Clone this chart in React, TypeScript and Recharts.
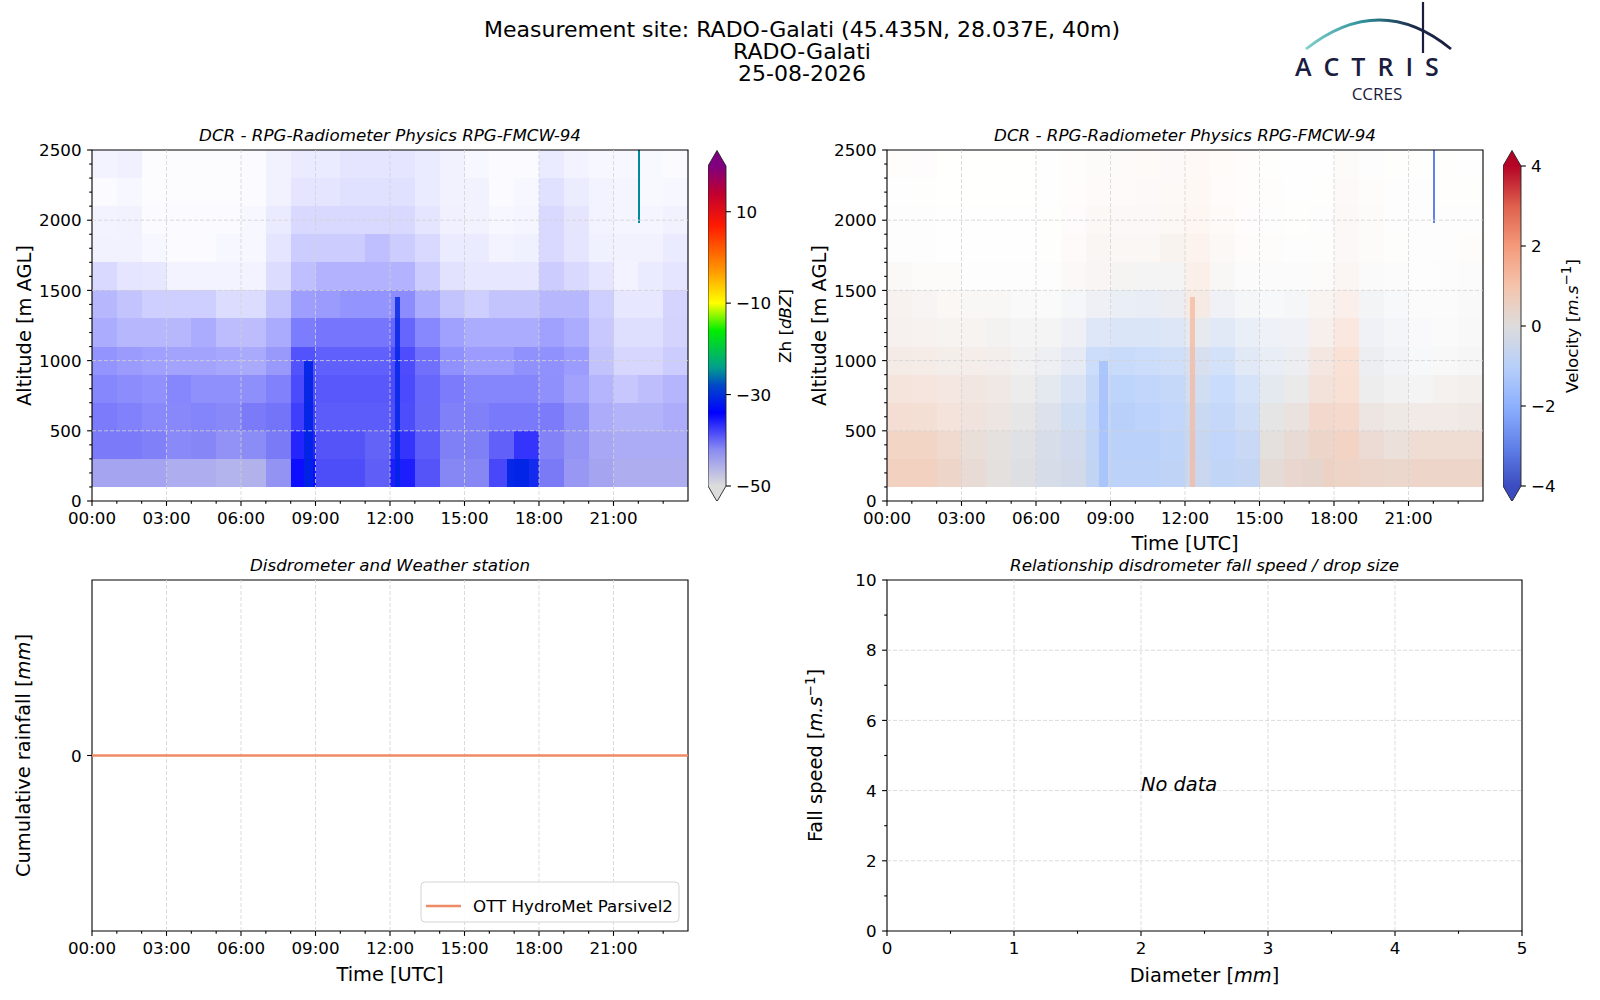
import React from "react";
import { ComposedChart, XAxis, YAxis, ReferenceArea, ReferenceLine, ReferenceDot, Line, Scatter } from "recharts";

const FONT = '"DejaVu Sans", sans-serif';

// ---- axes ----
const HOURS = [0, 1, 2, 3, 4, 5, 6, 7, 8, 9, 10, 11, 12, 13, 14, 15, 16, 17, 18, 19, 20, 21, 22, 23];
const HOUR_MAJOR = [0, 3, 6, 9, 12, 15, 18, 21];
const ALT_TICKS = [0, 100, 200, 300, 400, 500, 600, 700, 800, 900, 1000, 1100, 1200, 1300, 1400, 1500, 1600, 1700, 1800, 1900, 2000, 2100, 2200, 2300, 2400, 2500];
const ALT_MAJOR = [0, 500, 1000, 1500, 2000, 2500];
const ALT_BANDS = [100, 300, 500, 700, 900, 1100, 1300, 1500, 1700, 1900, 2100, 2300]; // lower edge, 200 m bands
const ZH_TICKS = [-50, -30, -10, 10];
const VEL_TICKS = [-4, -2, 0, 2, 4];
const DIAM_TICKS = [0, 0.5, 1, 1.5, 2, 2.5, 3, 3.5, 4, 4.5, 5];
const DIAM_MAJOR = [0, 1, 2, 3, 4, 5];
const SPEED_TICKS = [0, 1, 2, 3, 4, 5, 6, 7, 8, 9, 10];
const SPEED_MAJOR = [0, 2, 4, 6, 8, 10];

// ---- radar echo coverage (fraction of gates with signal), per hour, per band ----
const COVER_100 = [0.85, 0.85, 0.85, 0.85, 0.85, 0.88, 0.9, 0.92, 0.95, 0.95, 0.95, 0.95, 0.95, 0.92, 0.9, 0.9, 0.9, 0.92, 0.88, 0.88, 0.85, 0.85, 0.85, 0.85];
const COVER_300 = [0.78, 0.78, 0.75, 0.78, 0.8, 0.82, 0.86, 0.88, 0.92, 0.92, 0.92, 0.92, 0.92, 0.88, 0.85, 0.85, 0.85, 0.85, 0.82, 0.8, 0.75, 0.72, 0.72, 0.72];
const COVER_500 = [0.65, 0.62, 0.58, 0.64, 0.66, 0.7, 0.78, 0.82, 0.88, 0.88, 0.88, 0.88, 0.88, 0.82, 0.75, 0.75, 0.72, 0.72, 0.7, 0.65, 0.55, 0.5, 0.5, 0.55];
const COVER_700 = [0.55, 0.52, 0.5, 0.55, 0.55, 0.55, 0.6, 0.68, 0.82, 0.82, 0.82, 0.82, 0.82, 0.75, 0.65, 0.6, 0.6, 0.6, 0.55, 0.5, 0.4, 0.3, 0.35, 0.4];
const COVER_900 = [0.45, 0.42, 0.4, 0.42, 0.42, 0.4, 0.42, 0.5, 0.72, 0.72, 0.72, 0.72, 0.75, 0.65, 0.5, 0.45, 0.45, 0.5, 0.5, 0.45, 0.3, 0.2, 0.2, 0.25];
const COVER_1100 = [0.35, 0.3, 0.3, 0.3, 0.35, 0.3, 0.3, 0.38, 0.55, 0.58, 0.58, 0.58, 0.6, 0.5, 0.4, 0.35, 0.35, 0.35, 0.4, 0.35, 0.25, 0.15, 0.15, 0.2];
const COVER_1300 = [0.3, 0.25, 0.2, 0.2, 0.2, 0.15, 0.15, 0.25, 0.38, 0.42, 0.45, 0.45, 0.45, 0.35, 0.25, 0.2, 0.25, 0.25, 0.3, 0.3, 0.2, 0.1, 0.1, 0.18];
const COVER_1500 = [0.15, 0.1, 0.1, 0.05, 0.05, 0.05, 0.05, 0.15, 0.25, 0.3, 0.3, 0.3, 0.3, 0.2, 0.12, 0.1, 0.1, 0.1, 0.2, 0.15, 0.1, 0.05, 0.08, 0.1];
const COVER_1700 = [0.05, 0.05, 0.03, 0.02, 0.02, 0.03, 0.03, 0.1, 0.2, 0.2, 0.2, 0.25, 0.2, 0.15, 0.08, 0.08, 0.05, 0.06, 0.15, 0.1, 0.06, 0.05, 0.05, 0.08];
const COVER_1900 = [0.05, 0.05, 0.02, 0.02, 0.02, 0.02, 0.03, 0.08, 0.15, 0.15, 0.15, 0.15, 0.15, 0.1, 0.06, 0.05, 0.03, 0.04, 0.15, 0.1, 0.05, 0.04, 0.04, 0.05];
const COVER_2100 = [0.02, 0.03, 0.01, 0.01, 0.01, 0.01, 0.02, 0.05, 0.1, 0.1, 0.12, 0.12, 0.12, 0.08, 0.05, 0.05, 0.02, 0.03, 0.12, 0.08, 0.05, 0.04, 0.03, 0.03];
const COVER_2300 = [0.05, 0.06, 0.01, 0.01, 0.01, 0.01, 0.02, 0.05, 0.08, 0.08, 0.1, 0.1, 0.1, 0.08, 0.05, 0.03, 0.02, 0.02, 0.08, 0.05, 0.03, 0.03, 0.03, 0.02];

// ---- mean reflectivity Zh (dBZ) ----
const ZH_100 = [-43, -43, -43, -44, -44, -45, -45, -42, -34, -38, -38, -39, -35, -38, -41, -41, -37, -32, -40, -42, -43, -44, -44, -44];
const ZH_300 = [-39, -39, -39, -40, -40, -41, -41, -40, -35, -38, -38, -39, -36, -38, -40, -40, -38, -35, -40, -41, -42, -42, -42, -42];
const ZH_500 = [-37, -37, -37, -38, -38, -39, -39, -39, -36, -38, -38, -38, -37, -38, -39, -39, -38, -38, -38, -39, -40, -40, -40, -40];
const ZH_700 = [-36, -36, -36, -36, -37, -37, -38, -38, -36, -37, -37, -37, -36, -37, -37, -37, -37, -37, -37, -38, -38, -38, -38, -38];
const ZH_900 = [-35, -35, -35, -36, -36, -36, -37, -37, -35, -36, -36, -36, -35, -36, -36, -36, -36, -36, -36, -36, -37, -37, -37, -37];
const ZH_1100 = [-35, -35, -35, -35, -35, -36, -36, -36, -35, -35, -35, -35, -34, -35, -35, -35, -35, -35, -35, -35, -36, -36, -36, -36];
const ZH_1300 = [-35, -35, -35, -35, -35, -35, -35, -35, -34, -35, -35, -35, -34, -35, -35, -35, -35, -35, -35, -35, -35, -35, -35, -35];
const ZH_1500 = [-34, -34, -35, -35, -35, -35, -35, -35, -34, -34, -34, -34, -34, -34, -35, -35, -35, -35, -34, -34, -34, -35, -34, -34];
const ZH_1700 = [-34, -34, -34, -34, -34, -34, -34, -34, -34, -34, -34, -34, -34, -34, -34, -34, -33, -33, -34, -34, -33, -34, -34, -34];
const ZH_1900 = [-33, -34, -34, -34, -34, -34, -34, -34, -34, -34, -34, -34, -34, -34, -34, -34, -33, -33, -34, -33, -33, -34, -34, -34];
const ZH_2100 = [-33, -33, -34, -34, -34, -34, -34, -34, -34, -34, -34, -34, -34, -34, -34, -34, -33, -33, -34, -33, -33, -33, -30, -34];
const ZH_2300 = [-33, -33, -34, -34, -34, -34, -34, -34, -34, -34, -34, -34, -34, -34, -34, -34, -33, -32, -34, -33, -33, -33, -30, -34];

// ---- mean Doppler velocity (m/s) ----
const VEL_100 = [0.8, 0.8, 0.6, 0.3, 0.1, -0.1, -0.3, -0.4, -0.8, -1.0, -1.0, -0.9, -0.6, -0.9, -0.8, 0.2, 0.4, 0.6, 0.6, 0.5, 0.5, 0.6, 0.6, 0.6];
const VEL_300 = [0.8, 0.8, 0.6, 0.3, 0.1, -0.1, -0.3, -0.5, -0.9, -1.1, -1.1, -1.0, -0.7, -1.0, -0.8, 0.1, 0.3, 0.6, 0.8, 0.4, 0.3, 0.5, 0.5, 0.5];
const VEL_500 = [0.7, 0.7, 0.6, 0.4, 0.2, 0, -0.3, -0.6, -1.0, -1.2, -1.1, -1.0, -0.7, -1.0, -0.8, 0, 0.2, 0.7, 0.8, 0.2, 0.2, 0.3, 0.3, 0.3];
const VEL_700 = [0.6, 0.6, 0.5, 0.4, 0.3, 0, -0.3, -0.6, -1.0, -1.2, -1.1, -1.0, -0.6, -1.0, -0.8, -0.3, 0, 0.6, 0.9, 0, 0, 0, 0.2, 0.2];
const VEL_900 = [0.4, 0.4, 0.3, 0.3, 0.2, 0, -0.2, -0.5, -1.0, -1.1, -1.0, -0.9, -0.5, -0.9, -0.7, -0.4, -0.2, 0.5, 1.0, -0.2, -0.3, -0.2, 0, 0];
const VEL_1100 = [0.3, 0.3, 0.2, 0.2, 0.1, 0, -0.1, -0.3, -0.7, -0.8, -0.8, -0.7, -0.2, -0.7, -0.5, -0.4, -0.3, 0.4, 0.9, -0.3, -0.3, -0.2, 0, 0];
const VEL_1300 = [0.3, 0.3, 0.3, 0.2, 0.2, 0.1, 0, -0.1, -0.3, -0.4, -0.4, -0.3, 0.5, -0.3, -0.2, -0.2, -0.2, 0.4, 0.7, -0.2, -0.2, 0, 0, 0];
const VEL_1500 = [0.3, 0.2, 0.2, 0.2, 0.2, 0.2, 0.2, 0.3, 0.2, 0.1, 0, 0, 0.8, 0.2, 0, 0, 0, 0.3, 0.5, 0, 0, 0, 0, 0];
const VEL_1700 = [0.2, 0.2, 0.2, 0.2, 0.2, 0.2, 0.3, 0.4, 0.4, 0.3, 0.3, 0.5, 1.0, 0.5, 0.3, 0.2, 0.2, 0.3, 0.4, 0.2, 0.2, 0.2, 0.2, 0.2];
const VEL_1900 = [0.2, 0.3, 0.2, 0.2, 0.2, 0.2, 0.3, 0.4, 0.5, 0.4, 0.4, 0.6, 1.1, 0.6, 0.4, 0.3, 0.3, 0.3, 0.4, 0.3, 0.2, 0.2, 0.2, 0.2];
const VEL_2100 = [0.3, 0.3, 0.2, 0.2, 0.2, 0.2, 0.3, 0.4, 0.5, 0.5, 0.5, 0.7, 1.0, 0.7, 0.5, 0.4, 0.3, 0.4, 0.5, 0.3, 0.3, 0.3, 0.3, 0.3];
const VEL_2300 = [0.4, 0.4, 0.2, 0.2, 0.2, 0.2, 0.3, 0.4, 0.5, 0.5, 0.6, 0.8, 0.9, 0.8, 0.6, 0.5, 0.4, 0.4, 0.5, 0.3, 0.3, 0.3, 0.3, 0.3];

// narrow features seen in the radar images
const STREAKS = [
  { t0: 8.55, t1: 8.9, a0: 100, a1: 1000, cover: 0.9, zh: -31, vel: -1.4 },
  { t0: 12.2, t1: 12.4, a0: 100, a1: 1450, cover: 0.8, zh: -31, vel: 1.2 },
  { t0: 16.7, t1: 17.6, a0: 100, a1: 300, cover: 0.9, zh: -31, vel: 0.3 },
  { t0: 22.0, t1: 22.08, a0: 1980, a1: 2500, cover: 1, zh: -25, vel: -3 },
];

// ---- disdrometer ----
const RAIN_TIME = [0, 1, 2, 3, 4, 5, 6, 7, 8, 9, 10, 11, 12, 13, 14, 15, 16, 17, 18, 19, 20, 21, 22, 23, 24];
const RAIN_MM = [0, 0, 0, 0, 0, 0, 0, 0, 0, 0, 0, 0, 0, 0, 0, 0, 0, 0, 0, 0, 0, 0, 0, 0, 0];
const DROP_DIAMETER: number[] = [];
const DROP_SPEED: number[] = [];

const COVER = [COVER_100, COVER_300, COVER_500, COVER_700, COVER_900, COVER_1100, COVER_1300, COVER_1500, COVER_1700, COVER_1900, COVER_2100, COVER_2300];
const ZH = [ZH_100, ZH_300, ZH_500, ZH_700, ZH_900, ZH_1100, ZH_1300, ZH_1500, ZH_1700, ZH_1900, ZH_2100, ZH_2300];
const VEL = [VEL_100, VEL_300, VEL_500, VEL_700, VEL_900, VEL_1100, VEL_1300, VEL_1500, VEL_1700, VEL_1900, VEL_2100, VEL_2300];

const CELLS = ALT_BANDS.flatMap((a, r) =>
  HOURS.map((h, c) => ({ t0: h, t1: h + 1, a0: a, a1: a + 200, cover: COVER[r][c], zh: ZH[r][c], vel: VEL[r][c] }))
).concat(STREAKS);

const rainData = RAIN_TIME.map((t, i) => ({ t, rain: RAIN_MM[i] }));
const dropData = DROP_DIAMETER.map((d, i) => ({ d, v: DROP_SPEED[i] }));

// ---- colour maps ----
type Stop = [number, string];
const ZH_STOPS: Stop[] = [
  [-50, "#dcdcdc"], [-42, "#8a8af2"], [-34, "#0000ff"], [-28, "#0048c8"], [-24, "#00a08a"],
  [-16, "#00ee00"], [-10, "#ffff00"], [-3, "#ff9900"], [7, "#ff1a00"], [14, "#c00030"], [20, "#7f007f"],
];
const VEL_STOPS: Stop[] = [
  [-4, "#3b4cc0"], [-3, "#6282ea"], [-2, "#8db0fe"], [-1, "#b8d0f9"], [0, "#dddcdc"],
  [1, "#f5c4ac"], [2, "#f49a7b"], [3, "#de604d"], [4, "#b40426"],
];

function hexRgb(h: string) {
  return [1, 3, 5].map((i) => parseInt(h.slice(i, i + 2), 16));
}
function colorAt(stops: Stop[], v: number) {
  if (v <= stops[0][0]) return stops[0][1];
  for (let i = 1; i < stops.length; i++) {
    if (v <= stops[i][0]) {
      const [v0, c0] = stops[i - 1];
      const [v1, c1] = stops[i];
      const f = (v - v0) / (v1 - v0);
      const a = hexRgb(c0), b = hexRgb(c1);
      return `rgb(${a.map((x, k) => Math.round(x + (b[k] - x) * f)).join(",")})`;
    }
  }
  return stops[stops.length - 1][1];
}

const fmtHour = (h: number) => `${String(h).padStart(2, "0")}:00`;
const fmtNum = (v: number) => (v < 0 ? `\u2212${Math.abs(v)}` : `${v}`);

// ---- ticks in matplotlib style ----
function BottomTick(p: any) {
  const { x, y, payload, majors, format } = p;
  const major = majors.includes(payload.value);
  return (
    <g>
      <line x1={x} x2={x} y1={y} y2={y + (major ? 4.9 : 2.8)} stroke="#000" strokeWidth={1.1} />
      {major && (
        <text x={x} y={y + 23} textAnchor="middle" fontSize={16.7} fontFamily={FONT} fill="#000">
          {format(payload.value)}
        </text>
      )}
    </g>
  );
}
function LeftTick(p: any) {
  const { x, y, payload, majors, format } = p;
  const major = majors.includes(payload.value);
  return (
    <g>
      <line x1={x} x2={x - (major ? 4.9 : 2.8)} y1={y} y2={y} stroke="#000" strokeWidth={1.1} />
      {major && (
        <text x={x - 10.5} y={y + 6.2} textAnchor="end" fontSize={16.7} fontFamily={FONT} fill="#000">
          {format(payload.value)}
        </text>
      )}
    </g>
  );
}
function RightTick(p: any) {
  const { x, y, payload } = p;
  return (
    <g>
      <line x1={x} x2={x + 4.9} y1={y} y2={y} stroke="#000" strokeWidth={1.1} />
      <text x={x + 10} y={y + 6.2} textAnchor="start" fontSize={16.7} fontFamily={FONT} fill="#000">
        {fmtNum(payload.value)}
      </text>
    </g>
  );
}

const GRID = { stroke: "#d2d2d2", strokeDasharray: "4 2", strokeWidth: 0.8 };

function RadarPanel({ left, field, stops }: { left: number; field: "zh" | "vel"; stops: Stop[] }) {
  return (
    <div style={{ position: "absolute", left, top: 100 }}>
      <ComposedChart width={700} height={450} margin={{ top: 50, right: 12, bottom: 9, left: 0 }} data={[]}>
        <XAxis type="number" dataKey="t" domain={[0, 24]} ticks={HOURS} interval={0} height={40}
          axisLine={false} tickLine={false} tickSize={0} tickMargin={0} allowDataOverflow
          tick={(p: any) => <BottomTick {...p} majors={HOUR_MAJOR} format={fmtHour} />} />
        <YAxis type="number" dataKey="a" domain={[0, 2500]} ticks={ALT_TICKS} interval={0} width={92}
          axisLine={false} tickLine={false} tickSize={0} tickMargin={0} allowDataOverflow
          tick={(p: any) => <LeftTick {...p} majors={ALT_MAJOR} format={(v: number) => `${v}`} />} />
        {CELLS.map((c, i) => {
          const fill = colorAt(stops, c[field]);
          return (
            <ReferenceArea key={i} x1={c.t0} x2={c.t1} y1={c.a0} y2={c.a1} ifOverflow="hidden"
              shape={(p: any) => (
                <rect x={p.x} y={p.y} width={p.width} height={p.height} fill={fill} fillOpacity={c.cover} shapeRendering="crispEdges" />
              )} />
          );
        })}
        {HOUR_MAJOR.filter((h) => h > 0).map((h) => <ReferenceLine key={`gx${h}`} x={h} {...GRID} />)}
        {ALT_MAJOR.filter((a) => a > 0 && a < 2500).map((a) => <ReferenceLine key={`gy${a}`} y={a} {...GRID} />)}
        <ReferenceArea x1={0} x2={24} y1={0} y2={2500} fill="none" fillOpacity={0} stroke="#000" strokeWidth={1.1} />
      </ComposedChart>
    </div>
  );
}

function Colorbar({ left, id, stops, min, max, ticks }: { left: number; id: string; stops: Stop[]; min: number; max: number; ticks: number[] }) {
  const under = stops[0][1];
  const over = stops[stops.length - 1][1];
  const barData = [{ x: 0, y: min }, { x: 1, y: max }];
  return (
    <div style={{ position: "absolute", left, top: 150 }}>
      <ComposedChart width={80} height={351} margin={{ top: 16, right: 12, bottom: 15, left: 0 }} data={barData}>
        <XAxis type="number" dataKey="x" domain={[0, 1]} height={0} tick={false} axisLine={false} tickLine={false} />
        <YAxis type="number" dataKey="y" yAxisId="cb" orientation="right" domain={[min, max]} ticks={ticks} interval={0} width={50}
          axisLine={false} tickLine={false} tickSize={0} tickMargin={0} allowDataOverflow
          tick={(p: any) => <RightTick {...p} />} />
        <ReferenceArea x1={0} x2={1} y1={min} y2={max} yAxisId="cb" ifOverflow="visible"
          shape={(p: any) => {
            const { x, y, width: w, height: h } = p;
            const tri = 15.5;
            return (
              <g>
                <defs>
                  <linearGradient id={id} x1="0" y1="1" x2="0" y2="0">
                    {stops.map(([v, c]) => (
                      <stop key={v} offset={(v - min) / (max - min)} stopColor={c} />
                    ))}
                  </linearGradient>
                </defs>
                <rect x={x} y={y} width={w} height={h} fill={`url(#${id})`} />
                <polygon points={`${x},${y} ${x + w / 2},${y - tri} ${x + w},${y}`} fill={over} />
                <polygon points={`${x},${y + h} ${x + w / 2},${y + h + tri} ${x + w},${y + h}`} fill={under} />
                <polygon
                  points={`${x},${y} ${x + w / 2},${y - tri} ${x + w},${y} ${x + w},${y + h} ${x + w / 2},${y + h + tri} ${x},${y + h}`}
                  fill="none" stroke="#222" strokeWidth={0.9} />
              </g>
            );
          }} />
      </ComposedChart>
    </div>
  );
}

function RainPanel() {
  return (
    <div style={{ position: "absolute", left: 0, top: 530 }}>
      <ComposedChart width={700} height={450} margin={{ top: 50, right: 12, bottom: 9, left: 0 }} data={rainData}>
        <XAxis type="number" dataKey="t" domain={[0, 24]} ticks={HOURS} interval={0} height={40}
          axisLine={false} tickLine={false} tickSize={0} tickMargin={0} allowDataOverflow
          tick={(p: any) => <BottomTick {...p} majors={HOUR_MAJOR} format={fmtHour} />} />
        <YAxis type="number" domain={[-0.055, 0.055]} ticks={[0]} interval={0} width={92}
          axisLine={false} tickLine={false} tickSize={0} tickMargin={0} allowDataOverflow
          tick={(p: any) => <LeftTick {...p} majors={[0]} format={(v: number) => `${v}`} />} />
        {HOUR_MAJOR.filter((h) => h > 0).map((h) => <ReferenceLine key={`gx${h}`} x={h} {...GRID} />)}
        <Line dataKey="rain" type="linear" stroke="#ef8a66" strokeWidth={2.6} dot={false} isAnimationActive={false} />
        <ReferenceArea x1={0} x2={24} y1={-0.055} y2={0.055} fill="none" fillOpacity={0} stroke="#000" strokeWidth={1.1} />
      </ComposedChart>
    </div>
  );
}

function DropPanel() {
  return (
    <div style={{ position: "absolute", left: 795, top: 530 }}>
      <ComposedChart width={740} height={450} margin={{ top: 50, right: 13, bottom: 9, left: 0 }} data={dropData}>
        <XAxis type="number" dataKey="d" domain={[0, 5]} ticks={DIAM_TICKS} interval={0} height={40}
          axisLine={false} tickLine={false} tickSize={0} tickMargin={0} allowDataOverflow
          tick={(p: any) => <BottomTick {...p} majors={DIAM_MAJOR} format={(v: number) => `${v}`} />} />
        <YAxis type="number" dataKey="v" domain={[0, 10]} ticks={SPEED_TICKS} interval={0} width={92}
          axisLine={false} tickLine={false} tickSize={0} tickMargin={0} allowDataOverflow
          tick={(p: any) => <LeftTick {...p} majors={SPEED_MAJOR} format={(v: number) => `${v}`} />} />
        {DIAM_MAJOR.filter((d) => d > 0 && d < 5).map((d) => <ReferenceLine key={`gx${d}`} x={d} {...GRID} />)}
        {SPEED_MAJOR.filter((s) => s > 0 && s < 10).map((s) => <ReferenceLine key={`gy${s}`} y={s} {...GRID} />)}
        <Scatter data={dropData} dataKey="v" fill="#1f77b4" isAnimationActive={false} />
        <ReferenceDot x={2} y={4} r={0} fill="none" stroke="none" ifOverflow="visible"
          label={(p: any) => (
            <text x={p.viewBox.x} y={p.viewBox.y} fontSize={19.4} fontStyle="italic" fontFamily={FONT} fill="#000">
              No data
            </text>
          )} />
        <ReferenceArea x1={0} x2={5} y1={0} y2={10} fill="none" fillOpacity={0} stroke="#000" strokeWidth={1.1} />
      </ComposedChart>
    </div>
  );
}

function Overlay() {
  const t = { fontFamily: FONT, fill: "#000" } as const;
  const it = { fontStyle: "italic" } as const;
  const sup = (s: string) => (
    <>
      <tspan dy={-7} fontSize={13.5}>{s}</tspan>
      <tspan dy={7}>]</tspan>
    </>
  );
  return (
    <svg width={1600} height={1000} style={{ position: "absolute", left: 0, top: 0, pointerEvents: "none" }}>
      {/* figure title */}
      <g {...t} fontSize={22} textAnchor="middle">
        <text x={802} y={37}>Measurement site: RADO-Galati (45.435N, 28.037E, 40m)</text>
        <text x={802} y={59}>RADO-Galati</text>
        <text x={802} y={81}>25-08-2026</text>
      </g>

      {/* ACTRIS logo */}
      <defs>
        <linearGradient id="arcGrad" gradientUnits="userSpaceOnUse" x1={1306} y1={0} x2={1450} y2={0}>
          <stop offset="0" stopColor="#7fd0cc" />
          <stop offset="0.4" stopColor="#2f8f9a" />
          <stop offset="0.75" stopColor="#1c2a4a" />
          <stop offset="1" stopColor="#1b1d3f" />
        </linearGradient>
      </defs>
      <path d="M1306,49 Q1380,-9 1451,49" fill="none" stroke="url(#arcGrad)" strokeWidth={2.8} />
      <line x1={1423} x2={1423} y1={2} y2={53} stroke="#1b1d3f" strokeWidth={2.2} />
      <text x={1295} y={76} fontFamily='"Open Sans", sans-serif' fontSize={25} fontWeight={600} letterSpacing={12} fill="#1b1d3f">ACTRIS</text>
      <text x={1377} y={100} fontFamily='"Open Sans", sans-serif' fontSize={17} textAnchor="middle" fill="#1b1d3f">CCRES</text>

      {/* subplot titles */}
      <g {...t} {...it} fontSize={16.7} textAnchor="middle">
        <text x={390} y={141}>DCR - RPG-Radiometer Physics RPG-FMCW-94</text>
        <text x={1185} y={141}>DCR - RPG-Radiometer Physics RPG-FMCW-94</text>
        <text x={390} y={571}>Disdrometer and Weather station</text>
        <text x={1204.5} y={571}>Relationship disdrometer fall speed / drop size</text>
      </g>

      {/* axis labels */}
      <g {...t} fontSize={19.4} textAnchor="middle">
        <text transform="translate(30.5,325.5) rotate(-90)">Altitude [m AGL]</text>
        <text transform="translate(826,325.5) rotate(-90)">Altitude [m AGL]</text>
        <text x={1185} y={550}>Time [UTC]</text>
        <text transform="translate(30,755.5) rotate(-90)">
          Cumulative rainfall [<tspan {...it}>mm</tspan>]
        </text>
        <text x={390} y={981}>Time [UTC]</text>
        <text transform="translate(822,755.5) rotate(-90)">
          Fall speed [<tspan {...it}>m.s</tspan>{sup("\u22121")}
        </text>
        <text x={1204.5} y={982}>
          Diameter [<tspan {...it}>mm</tspan>]
        </text>
      </g>
      <g {...t} fontSize={16.7} textAnchor="middle">
        <text transform="translate(791,326) rotate(-90)">
          Zh [<tspan {...it}>dBZ</tspan>]
        </text>
        <text transform="translate(1578,326) rotate(-90)">
          Velocity [<tspan {...it}>m.s</tspan>{sup("\u22121")}
        </text>
      </g>

      {/* legend */}
      <rect x={421} y={882} width={258} height={40} rx={4} fill="#fff" fillOpacity={0.85} stroke="#d4d4d4" />
      <line x1={426} x2={461} y1={906} y2={906} stroke="#ef8a66" strokeWidth={2.6} />
      <text x={473} y={912} fontFamily={FONT} fontSize={16.7} fill="#000">OTT HydroMet Parsivel2</text>
    </svg>
  );
}

export default function App() {
  return (
    <div style={{ position: "absolute", left: 0, top: 0, width: 1600, height: 1000, background: "#fff", overflow: "hidden" }}>
      <RadarPanel left={0} field="zh" stops={ZH_STOPS} />
      <Colorbar left={708} id="zhGrad" stops={ZH_STOPS} min={-50} max={20} ticks={ZH_TICKS} />
      <RadarPanel left={795} field="vel" stops={VEL_STOPS} />
      <Colorbar left={1503} id="velGrad" stops={VEL_STOPS} min={-4} max={4} ticks={VEL_TICKS} />
      <RainPanel />
      <DropPanel />
      <Overlay />
    </div>
  );
}
